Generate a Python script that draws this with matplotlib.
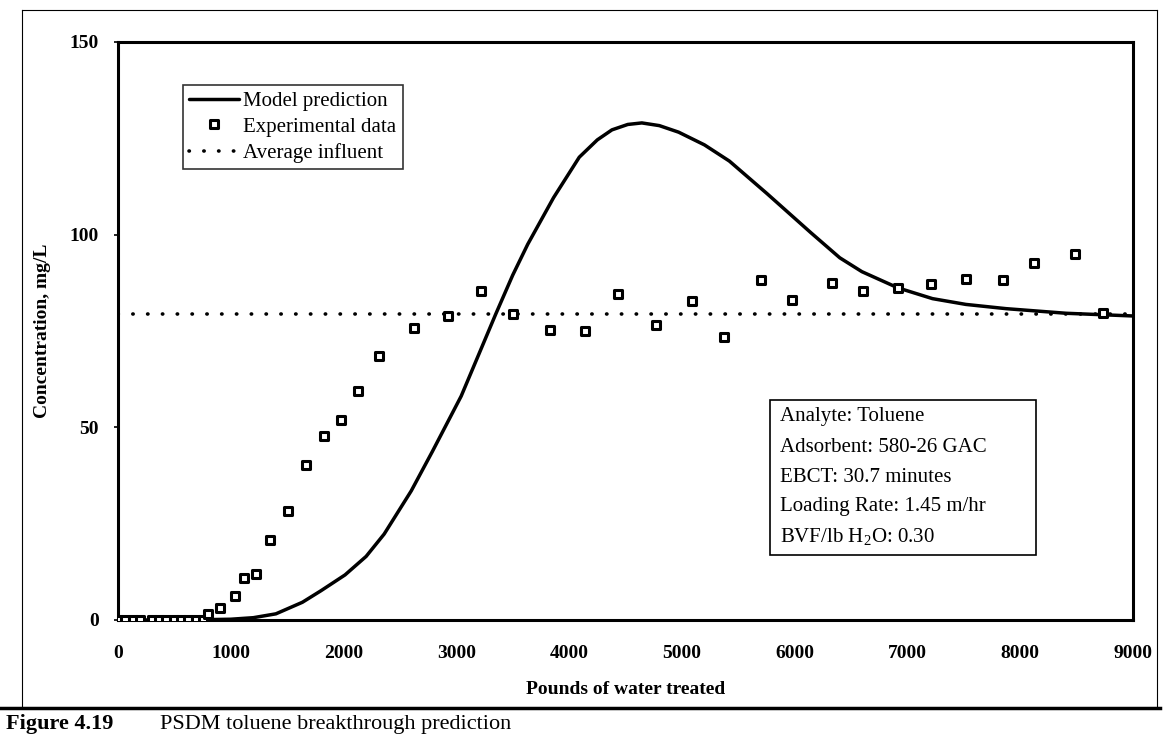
import numpy as np
import matplotlib
matplotlib.use("Agg")
import matplotlib.pyplot as plt
from matplotlib.lines import Line2D
from matplotlib.patches import Rectangle
from matplotlib.markers import MarkerStyle

plt.rcParams['font.family'] = ['Liberation Serif', 'DejaVu Serif']
plt.rcParams['mathtext.fontset'] = 'custom'
plt.rcParams['mathtext.rm'] = 'Liberation Serif'

# model prediction (PSDM)
model_x = [0, 600, 1000, 1200, 1400, 1635, 1800, 2013, 2200, 2360, 2600, 2787, 3043, 3200,
           3351, 3500, 3633, 3862, 4090, 4250, 4380, 4520, 4645, 4800, 4971, 5200, 5421,
           5753, 6144, 6400, 6596, 6915, 7222, 7518, 7874, 8408, 9000]
model_y = [0, 0, 0.2, 0.6, 1.6, 4.6, 7.6, 11.7, 16.5, 22.3, 33.5, 43.7, 58.1, 69.0,
           79.5, 89.5, 97.5, 109.6, 120.1, 124.6, 127.2, 128.6, 129.0, 128.3, 126.6, 123.3, 119.1,
           110.7, 100.5, 94.0, 90.4, 86.2, 83.4, 81.9, 80.8, 79.6, 78.9]

# experimental data
exp_x = [0, 65, 130, 195, 300, 365, 430, 495, 560, 625, 690, 750, 800, 904, 1037, 1118,
         1224, 1348, 1504, 1667, 1824, 1976, 2128, 2316, 2624, 2927, 3223, 3500, 3828,
         4138, 4435, 4773, 5088, 5370, 5701, 5975, 6332, 6605, 6915, 7213, 7516, 7844,
         8125, 8484, 8738]
exp_y = [0, 0, 0, 0, 0, 0, 0, 0, 0, 0, 0, 0, 1.5, 3.1, 6.3, 10.8,
         11.9, 20.7, 28.4, 40.1, 47.7, 52.0, 59.3, 68.5, 75.7, 78.8, 85.3, 79.4, 75.3,
         75.0, 84.6, 76.6, 82.8, 73.4, 88.3, 83.0, 87.5, 85.4, 86.2, 87.3, 88.5, 88.3,
         92.7, 95.1, 79.7]

avg_influent = 79.5
x_ticks = [0, 1000, 2000, 3000, 4000, 5000, 6000, 7000, 8000, 9000]
y_ticks = [0, 50, 100, 150]

info_lines = ["Analyte: Toluene",
              "Adsorbent: 580-26 GAC",
              "EBCT: 30.7 minutes",
              "Loading Rate: 1.45 m/hr",
              r"BVF/lb H$_2$O: 0.30"]

W, H = 1169, 736
fig = plt.figure(figsize=(W / 100, H / 100), dpi=100)

def fx(px):
    return px / W

def fy(py):
    return 1 - py / H

ax = fig.add_axes([fx(118), fy(620), fx(1133) - fx(118), fy(42) - fy(620)])

ax.plot(model_x, model_y, color='black', lw=2.5, solid_capstyle='round',
        solid_joinstyle='round', label='Model prediction', zorder=3)
sq = MarkerStyle('s', joinstyle='round')
ax.plot(exp_x, exp_y, ls='none', marker=sq, ms=5.5, mew=2.2, mec='black', mfc='white',
        label='Experimental data', zorder=4)
ax.plot([0, 9000], [avg_influent, avg_influent], color='black', lw=2.6,
        ls=(0, (0.1, 4.0)), dash_capstyle='round', label='Average influent', zorder=2)

ax.set_xlim(0, 9000)
ax.set_ylim(0, 150)
ax.set_xticks(x_ticks)
ax.set_yticks(y_ticks)
ax.tick_params(axis='x', length=0, pad=18, labelsize=14)
ax.tick_params(axis='y', length=3, width=1.2, pad=11, labelsize=14)
for lab in ax.get_xticklabels() + ax.get_yticklabels():
    lab.set_fontweight('bold')
for sp in ax.spines.values():
    sp.set_linewidth(2.2)

ax.set_xlabel('Pounds of water treated', fontsize=14, fontweight='bold')
ax.xaxis.set_label_coords(0.5, -0.105)
ax.set_ylabel('Concentration, mg/L', fontsize=14, fontweight='bold')
ax.yaxis.set_label_coords(-0.066, 0.5)

leg = ax.legend(loc='upper left', bbox_to_anchor=(fx(183), fy(85)),
                bbox_transform=fig.transFigure, borderaxespad=0, frameon=True,
                fancybox=False, edgecolor='black', fontsize=15, handlelength=2.4,
                handletextpad=0.2, labelspacing=0.3, borderpad=0.3)
leg.get_frame().set_linewidth(1.2)

# parameter box
fig.add_artist(Rectangle((fx(770), fy(555)), fx(1036) - fx(770), fy(400) - fy(555),
                         transform=fig.transFigure, fill=False, ec='black', lw=1.2))
for i, line in enumerate(info_lines):
    fig.text(fx(780), fy(417 + 30 * i), line, fontsize=15, va='center', ha='left')

# outer frame of the scanned page
fig.add_artist(Line2D([fx(22), fx(1157)], [fy(10), fy(10)], color='black', lw=0.8))
fig.add_artist(Line2D([fx(22), fx(22)], [fy(10), fy(708)], color='black', lw=0.8))
fig.add_artist(Line2D([fx(1157), fx(1157)], [fy(10), fy(708)], color='black', lw=0.8))
fig.add_artist(Line2D([fx(0), fx(1160)], [fy(708), fy(708)], color='black', lw=2.5))

fig.text(fx(6), fy(734), 'Figure 4.19', fontsize=16, fontweight='bold', va='bottom')
fig.text(fx(160), fy(734), 'PSDM toluene breakthrough prediction', fontsize=16,
         va='bottom')

fig.savefig('out.png', dpi=100)
